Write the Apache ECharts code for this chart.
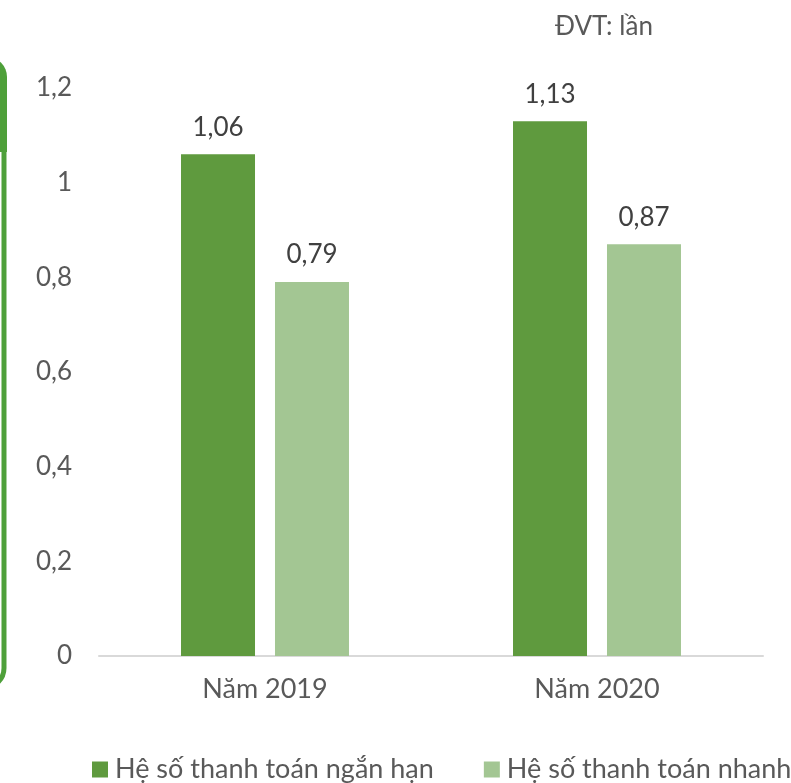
<!DOCTYPE html>
<html><head><meta charset="utf-8">
<script src="https://cdn.jsdelivr.net/npm/echarts@6/dist/echarts.min.js"></script>
<style>html,body{margin:0;padding:0;background:#fff}#c{width:791px;height:783px}</style>
</head><body><div id="c"></div>
<script>
var categories = ['Năm 2019', 'Năm 2020'];
var seriesNames = ['Hệ số thanh toán ngắn hạn', 'Hệ số thanh toán nhanh'];
var shortTerm = [1.06, 1.13];
var quick = [0.79, 0.87];
var unitText = 'ĐVT: lần';

var fmt = function (v) { return String(v).replace('.', ','); };
var FONT = 'Lato';
var chart = echarts.init(document.getElementById('c'), null, {renderer: 'canvas'});
chart.setOption({
  animation: false,
  backgroundColor: '#fff',
  textStyle: {fontFamily: FONT},
  graphic: [
    {type: 'rect', shape: {x: -200, y: 57, width: 207, height: 95, r: [0, 20, 0, 0]}, style: {fill: '#4EA03A'}},
    {type: 'rect', shape: {x: -200, y: 60, width: 204, height: 628, r: [0, 20, 20, 0]}, style: {fill: 'none', stroke: '#4EA03A', lineWidth: 5}},
    {type: 'text', left: 555, top: 14, style: {text: unitText, fontSize: 26, fill: '#595959', fontFamily: FONT}}
  ],
  grid: {left: 99, right: 28, top: 88, height: 568, containLabel: false},
  legend: {
    top: 756, left: 92, width: 790, padding: 0, orient: 'horizontal',
    itemWidth: 16, itemHeight: 16, itemGap: 50, icon: 'rect',
    textStyle: {fontSize: 27, color: '#595959', fontFamily: FONT, padding: [0, 0, 0, 2]},
    data: seriesNames
  },
  xAxis: {
    type: 'category', data: categories,
    axisLine: {lineStyle: {color: '#D9D9D9', width: 2}},
    axisTick: {show: false},
    axisLabel: {fontSize: 27, color: '#595959', margin: 20}
  },
  yAxis: {
    type: 'value', min: 0, max: 1.2, interval: 0.2,
    splitLine: {show: false}, axisLine: {show: false}, axisTick: {show: false},
    axisLabel: {fontSize: 26, color: '#595959', margin: 27, formatter: fmt}
  },
  series: [
    {name: seriesNames[0], type: 'bar', data: shortTerm, barWidth: 74, barGap: '27%',
     itemStyle: {color: '#5F9A3E'},
     label: {show: true, position: 'top', distance: 14, fontSize: 26, color: '#404040', formatter: function (p) { return fmt(p.value); }}},
    {name: seriesNames[1], type: 'bar', data: quick, barWidth: 74,
     itemStyle: {color: '#A3C693'},
     label: {show: true, position: 'top', distance: 14, fontSize: 26, color: '#404040', formatter: function (p) { return fmt(p.value); }}}
  ]
});
</script></body></html>
